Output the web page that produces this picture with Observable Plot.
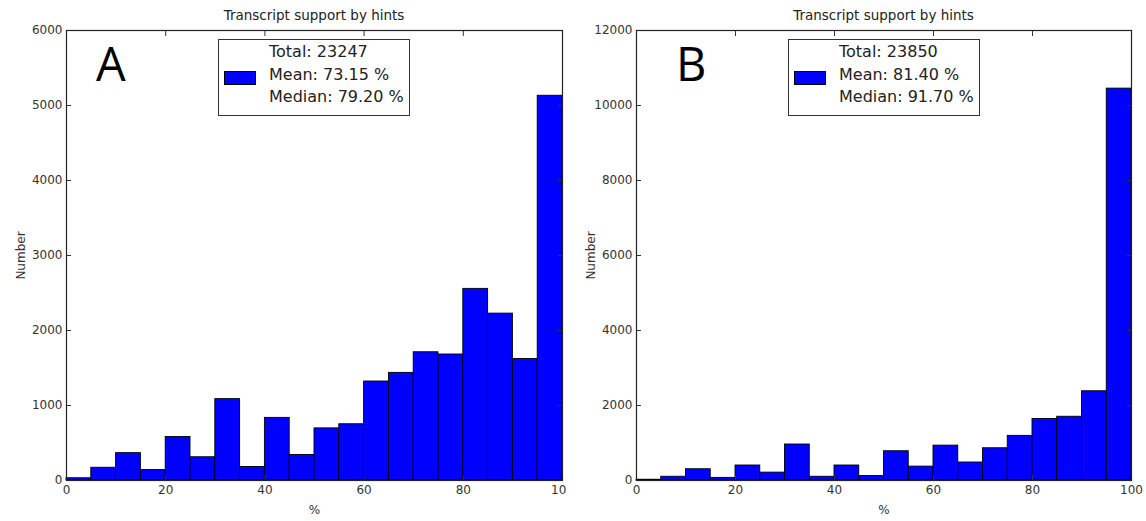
<!DOCTYPE html>
<html>
<head>
<meta charset="utf-8">
<script src="https://cdn.jsdelivr.net/npm/d3@7"></script>
<script src="https://cdn.jsdelivr.net/npm/@observablehq/plot@0.6"></script>
<style>
  html, body { margin: 0; padding: 0; background: #fff; }
  #wrap { position: relative; width: 1146px; height: 521px; overflow: hidden; font-family: "DejaVu Sans", sans-serif; }
  .panel { position: absolute; top: 0; height: 521px; overflow: hidden; }
  .panel svg { max-width: none !important; }
  .title { position: absolute; top: 7px; font-size: 13.5px; color: #222; text-align: center; white-space: nowrap; }
  .legend { position: absolute; border: 1.3px solid #333; background: #fff; box-sizing: border-box; }
  .legend .swatch { position: absolute; left: 5px; top: 31px; width: 32px; height: 14px; background: #0000ff; border: 1px solid #000; box-sizing: border-box; }
  .legend .lines { position: absolute; left: 50px; top: 1px; font-size: 16px; line-height: 22.5px; color: #222; white-space: nowrap; }
  .letter { position: absolute; top: 40px; font-family: "Open Sans", "Liberation Sans", sans-serif; font-size: 47px; color: #000; line-height: 1; }
</style>
</head>
<body>
<div id="wrap"></div>
<script>
// ---- data ----
const binStart = [0, 5, 10, 15, 20, 25, 30, 35, 40, 45, 50, 55, 60, 65, 70, 75, 80, 85, 90, 95];
const binEnd   = [5, 10, 15, 20, 25, 30, 35, 40, 45, 50, 55, 60, 65, 70, 75, 80, 85, 90, 95, 100];
const countsA = [30, 170, 365, 140, 580, 310, 1085, 180, 835, 340, 695, 750, 1320, 1435, 1710, 1680, 2555, 2225, 1620, 5130];
const countsB = [20, 100, 300, 70, 400, 210, 960, 100, 400, 120, 780, 370, 930, 480, 860, 1190, 1640, 1700, 2380, 10450];
const xTicks = [0, 20, 40, 60, 80, 100];
const yTicksA = [0, 1000, 2000, 3000, 4000, 5000, 6000];
const yTicksB = [0, 2000, 4000, 6000, 8000, 10000, 12000];
const titleText = "Transcript support by hints";
const legendA = ["Total: 23247", "Mean: 73.15 %", "Median: 79.20 %"];
const legendB = ["Total: 23850", "Mean: 81.40 %", "Median: 91.70 %"];
const letters = ["A", "B"];

function makePlot(counts, yMax, yTicks, width, marginRight) {
  const data = binStart.map((s, i) => ({x1: s, x2: binEnd[i], n: counts[i]}));
  return Plot.plot({
    width, height: 521,
    marginTop: 30, marginBottom: 41, marginLeft: 66, marginRight,
    style: {fontFamily: '"DejaVu Sans", sans-serif', fontSize: "12px", color: "#333", background: "transparent", maxWidth: "none"},
    x: {domain: [0, 100]},
    y: {domain: [0, yMax]},
    marks: [
      Plot.rectY(data, {x1: "x1", x2: "x2", y: "n", fill: "#0000ff", stroke: "#000", strokeWidth: 0.9}),
      Plot.axisX(xTicks, {anchor: "bottom", tickSize: -5, tickPadding: 10, tickFormat: d3.format("d"), label: "%", labelAnchor: "center", labelOffset: 33, labelArrow: "none"}),
      Plot.axisX(xTicks, {anchor: "top", tickSize: -5, tickFormat: () => "", label: null}),
      Plot.axisY(yTicks, {anchor: "left", tickSize: -5, tickPadding: 9, tickFormat: d3.format("d"), label: "Number", labelAnchor: "center", labelOffset: 50, labelArrow: "none"}),
      Plot.axisY(yTicks, {anchor: "right", tickSize: -5, tickFormat: () => "", label: null}),
      Plot.frame({stroke: "#222", strokeWidth: 1.2})
    ]
  });
}

const wrap = document.getElementById("wrap");
const panels = [
  {left: 0, clip: 566, width: 576, mr: 14, counts: countsA, yMax: 6000, yTicks: yTicksA, legend: legendA, letter: letters[0], letterX: 96},
  {left: 570, clip: 576, width: 576, mr: 15, counts: countsB, yMax: 12000, yTicks: yTicksB, legend: legendB, letter: letters[1], letterX: 106}
];
for (const p of panels) {
  const div = document.createElement("div");
  div.className = "panel";
  div.style.left = p.left + "px";
  div.style.width = p.clip + "px";
  div.appendChild(makePlot(p.counts, p.yMax, p.yTicks, p.width, p.mr));

  const plotCenter = (66 + (p.width - p.mr)) / 2;
  const t = document.createElement("div");
  t.className = "title";
  t.textContent = titleText;
  t.style.left = (plotCenter - 150) + "px";
  t.style.width = "300px";
  div.appendChild(t);

  const lg = document.createElement("div");
  lg.className = "legend";
  lg.style.left = "218px"; lg.style.top = "39px"; lg.style.width = "192px"; lg.style.height = "77px";
  const sw = document.createElement("div"); sw.className = "swatch"; lg.appendChild(sw);
  const lines = document.createElement("div"); lines.className = "lines";
  lines.innerHTML = p.legend.map(s => `<div>${s}</div>`).join("");
  lg.appendChild(lines);
  div.appendChild(lg);

  const L = document.createElement("div");
  L.className = "letter";
  L.textContent = p.letter;
  L.style.left = p.letterX + "px";
  div.appendChild(L);

  wrap.appendChild(div);
}
</script>
</body>
</html>
